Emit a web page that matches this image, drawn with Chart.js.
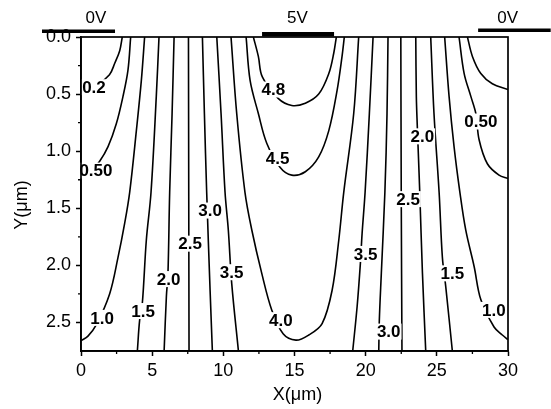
<!DOCTYPE html>
<html>
<head>
<meta charset="utf-8">
<title>Potential distribution</title>
<script src="https://cdn.jsdelivr.net/npm/chart.js@4.4.1/dist/chart.umd.min.js"></script>
<style>
    html, body { margin: 0; padding: 0; background: #fff; }
    canvas { display: block; }
</style>
</head>
<body>
<canvas id="potentialChart" width="551" height="409"></canvas>
<script>
// equipotential lines, points are [x (um), depth y (um)]
var line02Left = [[2.90, 0], [2.72, 0.12], [2.37, 0.23], [2.0, 0.33], [1.1, 0.42], [0, 0.46]];
var line05Left = [[3.49, 0], [3.30, 0.29], [2.95, 0.52], [2.48, 0.76], [1.90, 0.96], [1.3, 1.09], [0.6, 1.19], [0, 1.23]];
var line10Left = [[4.47, 0], [4.24, 0.38], [3.89, 0.82], [3.42, 1.36], [3.07, 1.63], [2.60, 1.93], [2.01, 2.25], [1.08, 2.52], [0.49, 2.62], [0, 2.66]];
var line15Left = [[5.48, 0], [5.29, 0.52], [4.92, 1.36], [4.59, 1.78], [4.31, 2.33], [4.12, 2.48], [3.96, 2.75]];
var line20Left = [[6.54, 0], [6.40, 0.67], [6.23, 1.36], [6.11, 2.07], [6.0, 2.27], [5.84, 2.75]];
var line25Left = [[7.55, 0], [7.57, 1.4], [7.59, 2.75]];
var line30Left = [[8.53, 0], [8.67, 0.67], [8.83, 1.36], [9.07, 2.22], [9.23, 2.75]];
var line35Left = [[9.54, 0], [9.84, 0.67], [10.12, 1.36], [10.35, 1.69], [10.59, 2.16], [11.06, 2.75]];
var line40 = [[10.54, 0], [10.94, 0.67], [11.52, 1.36], [12.0, 1.69], [12.70, 2.07], [13.40, 2.39], [14.2, 2.60], [15.1, 2.655],
    [16.0, 2.61], [16.94, 2.51], [17.64, 2.22], [18.11, 1.78], [18.46, 1.36], [19.16, 0.67], [19.51, 0]];
var line45 = [[11.60, 0], [11.88, 0.38], [12.46, 0.67], [13.05, 0.93], [13.98, 1.14], [14.81, 1.21], [15.76, 1.18],
    [16.70, 1.05], [17.41, 0.82], [17.99, 0.47], [18.34, 0.17], [18.5, 0]];
var line48 = [[12.11, 0], [12.46, 0.17], [12.74, 0.35], [13.87, 0.54], [14.81, 0.60], [15.76, 0.58], [16.70, 0.50],
    [17.41, 0.32], [17.76, 0.14], [17.94, 0]];
var line35Right = [[20.52, 0], [20.26, 0.67], [19.96, 1.36], [19.75, 1.72], [19.63, 1.98], [19.40, 2.36], [19.09, 2.75]];
var line30Right = [[21.57, 0], [21.50, 0.67], [21.35, 1.36], [21.10, 2.07], [20.96, 2.48], [20.92, 2.75]];
var line25Right = [[22.47, 0], [22.5, 1.4], [22.55, 2.75]];
var line20Right = [[23.52, 0], [23.56, 0.52], [23.63, 0.79], [23.70, 1.02], [23.80, 1.36], [23.99, 2.07], [24.22, 2.75]];
var line15Right = [[24.57, 0], [24.80, 0.67], [25.16, 1.36], [25.39, 1.93], [25.63, 2.19], [26.09, 2.75]];
var line10Right = [[25.55, 0], [25.86, 0.52], [26.21, 0.96], [26.62, 1.36], [27.03, 1.69], [27.62, 2.01], [28.09, 2.30],
    [29.02, 2.54], [29.6, 2.61], [30, 2.65]];
var line05Right = [[26.56, 0], [26.92, 0.32], [27.39, 0.52], [27.74, 0.67], [27.97, 0.90], [28.55, 1.11], [29.37, 1.21], [30, 1.24]];
var line02Right = [[27.15, 0], [27.50, 0.17], [28.09, 0.32], [28.90, 0.41], [30, 0.46]];

var equipotentials = [line02Left, line05Left, line10Left, line15Left, line20Left, line25Left, line30Left, line35Left,
    line40, line45, line48, line35Right, line30Right, line25Right, line20Right, line15Right, line10Right, line05Right, line02Right];

// level labels sitting on the lines: [text, x, y]
var levelLabels = [
    ['0.2', 0.91, 0.44], ['0.50', 1.05, 1.17], ['1.0', 1.48, 2.46], ['1.5', 4.36, 2.40], ['2.0', 6.15, 2.12],
    ['2.5', 7.66, 1.81], ['3.0', 9.07, 1.52], ['3.5', 10.58, 2.06], ['4.0', 14.04, 2.48], ['4.5', 13.81, 1.06],
    ['4.8', 13.51, 0.46], ['3.5', 19.99, 1.90], ['3.0', 21.62, 2.58], ['2.5', 22.98, 1.42], ['2.0', 23.98, 0.87],
    ['1.5', 26.09, 2.07], ['1.0', 29.0, 2.39], ['0.50', 28.09, 0.74]
];

var xTicks = [0, 5, 10, 15, 20, 25, 30];
var xMinorTicks = [2.5, 7.5, 12.5, 17.5, 22.5, 27.5];
var yTicks = [0, 0.5, 1, 1.5, 2, 2.5];
var yTickLabels = ['0.0', '0.5', '1.0', '1.5', '2.0', '2.5'];
var yMinorTicks = [0.25, 0.75, 1.25, 1.75, 2.25];

// surface electrodes
var electrodeNames = ['0V', '5V', '0V'];
var electrodeSpans = [[-2.74, 2.39], [12.72, 17.78], [27.9, 33]];

var PotentialChart = (function () {
    'use strict';

    var FONT = '"Liberation Sans", Arial, sans-serif';
    var electrodeLift = [-0.05, -0.025, -0.06];
    var electrodeWidth = [3.5, 4.5, 3.5];
    var electrodeNameX = [1.05, 15.2, 29.97];

    var toPoints = function (pairs) {
        return pairs.map(function (p) {
            return { x: p[0], y: p[1] };
        });
    };

    var buildDatasets = function () {
        var lines = equipotentials.map(function (pairs) {
            return {
                data: toPoints(pairs),
                showLine: true,
                borderColor: '#000',
                borderWidth: 1.6,
                pointRadius: 0,
                tension: 0.35,
                fill: false
            };
        });

        var electrodes = electrodeSpans.map(function (span, i) {
            return {
                data: [{ x: span[0], y: electrodeLift[i] }, { x: span[1], y: electrodeLift[i] }],
                showLine: true,
                borderColor: '#000',
                borderWidth: electrodeWidth[i],
                pointRadius: 0,
                clip: false
            };
        });

        return lines.concat(electrodes);
    };

    var decorations = {
        id: 'decorations',
        afterDatasetsDraw: function (chart) {
            var ctx = chart.ctx;
            var area = chart.chartArea;
            var xs = chart.scales.x;
            var ys = chart.scales.y;

            ctx.save();

            // level labels knock out the line beneath them
            ctx.font = 'bold 17px ' + FONT;
            ctx.textAlign = 'center';
            ctx.textBaseline = 'middle';
            levelLabels.forEach(function (item) {
                var px = xs.getPixelForValue(item[1]);
                var py = ys.getPixelForValue(item[2]);
                var w = ctx.measureText(item[0]).width;
                ctx.fillStyle = '#fff';
                ctx.fillRect(px - w / 2 - 1, py - 8, w + 2, 16);
                ctx.fillStyle = '#000';
                ctx.fillText(item[0], px, py + 1);
            });

            // frame and minor ticks
            ctx.strokeStyle = '#000';
            ctx.lineWidth = 1.7;
            ctx.strokeRect(area.left, area.top, area.right - area.left, area.bottom - area.top);

            ctx.lineWidth = 1.3;
            ctx.beginPath();
            xMinorTicks.forEach(function (v) {
                var px = xs.getPixelForValue(v);
                ctx.moveTo(px, area.bottom);
                ctx.lineTo(px, area.bottom + 3);
            });
            yMinorTicks.forEach(function (v) {
                var py = ys.getPixelForValue(v);
                ctx.moveTo(area.left, py);
                ctx.lineTo(area.left - 3, py);
            });
            ctx.stroke();

            // voltage names above the electrodes
            ctx.font = '17px ' + FONT;
            ctx.fillStyle = '#000';
            electrodeNames.forEach(function (name, i) {
                ctx.fillText(name, xs.getPixelForValue(electrodeNameX[i]), ys.getPixelForValue(-0.16));
            });

            // axis titles
            ctx.font = '18px ' + FONT;
            ctx.fillText('X(\u03bcm)', (area.left + area.right) / 2 + 3, area.bottom + 44);
            ctx.translate(22, (area.top + area.bottom) / 2 + 11);
            ctx.rotate(-Math.PI / 2);
            ctx.fillText('Y(\u03bcm)', 0, 0);

            ctx.restore();
        }
    };

    var tickFont = { family: FONT, size: 18 };

    var load = function (selector) {
        var context = document.getElementById(selector);
        var chart = new Chart(context, {
            type: 'scatter',
            data: {
                datasets: buildDatasets()
            },
            options: {
                responsive: false,
                animation: false,
                events: [],
                layout: {
                    padding: { top: 37, right: 43, left: 0, bottom: 0 }
                },
                plugins: {
                    legend: { display: false },
                    tooltip: { enabled: false }
                },
                scales: {
                    x: {
                        type: 'linear',
                        min: 0,
                        max: 30,
                        afterBuildTicks: function (scale) {
                            scale.ticks = xTicks.map(function (v) {
                                return { value: v };
                            });
                        },
                        afterFit: function (scale) {
                            scale.height = 58;
                        },
                        ticks: {
                            color: '#000',
                            font: tickFont,
                            padding: 4,
                            maxRotation: 0
                        },
                        grid: {
                            drawOnChartArea: false,
                            tickLength: 5,
                            tickColor: '#000',
                            tickWidth: 1.5
                        },
                        border: { color: '#000', width: 1.7 }
                    },
                    y: {
                        type: 'linear',
                        reverse: true,
                        min: 0,
                        max: 2.75,
                        afterBuildTicks: function (scale) {
                            scale.ticks = yTicks.map(function (v) {
                                return { value: v };
                            });
                        },
                        afterFit: function (scale) {
                            scale.width = 81;
                        },
                        ticks: {
                            color: '#000',
                            font: tickFont,
                            padding: 5,
                            callback: function (value, index) {
                                return yTickLabels[index];
                            }
                        },
                        grid: {
                            drawOnChartArea: false,
                            tickLength: 5,
                            tickColor: '#000',
                            tickWidth: 1.5
                        },
                        border: { color: '#000', width: 1.7 }
                    }
                }
            },
            plugins: [decorations]
        });

        return chart;
    };

    return {
        load: load
    };

})();

PotentialChart.load('potentialChart');
</script>
</body>
</html>
